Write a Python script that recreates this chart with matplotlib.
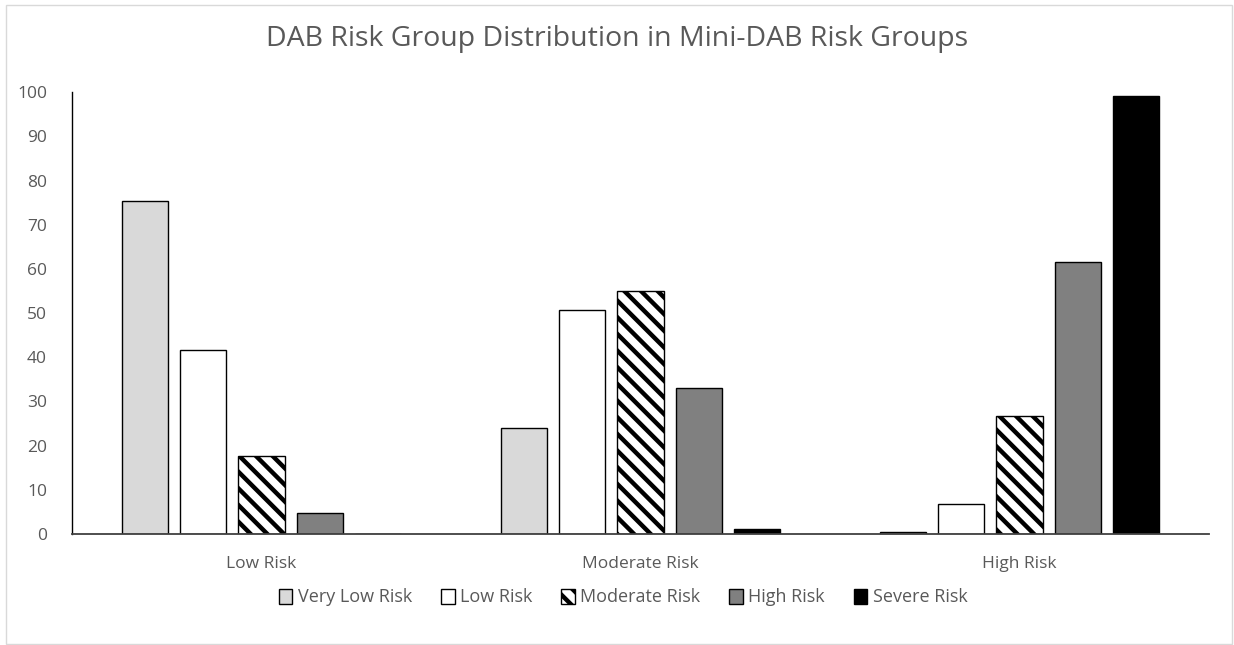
import numpy as np
import matplotlib
matplotlib.use("Agg")
import matplotlib.pyplot as plt
from matplotlib.patches import Rectangle

plt.rcParams['font.family'] = ['Open Sans', 'DejaVu Sans']
plt.rcParams['hatch.linewidth'] = 3.2

# data
groups = ['Low Risk', 'Moderate Risk', 'High Risk']
series = ['Very Low Risk', 'Low Risk', 'Moderate Risk', 'High Risk', 'Severe Risk']
very_low = [75.4, 24.0, 0.5]
low = [41.6, 50.7, 6.9]
moderate = [17.6, 55.0, 26.7]
high = [4.7, 33.1, 61.5]
severe = [0.0, 1.2, 99.1]

values = [very_low, low, moderate, high, severe]
fills = ['#d9d9d9', 'white', 'white', '#808080', 'black']
hatches = [None, None, '\\\\', None, None]

text_col = '#595959'

fig = plt.figure(figsize=(12.34, 6.45), dpi=100)
ax = fig.add_axes([0.0583, 0.1721, 0.9214, 0.6849])

x = np.arange(len(groups))
step = 0.154
width = 0.122
for i, (vals, fc, h, name) in enumerate(zip(values, fills, hatches, series)):
    ax.bar(x + (i - 2) * step, vals, width, color=fc, edgecolor='black',
           linewidth=1.0, hatch=h, label=name)

ax.set_xlim(-0.5, 2.5)
ax.set_ylim(0, 100)
ax.set_yticks(np.arange(0, 101, 10))
ax.set_xticks(x)
ax.set_xticklabels(groups)
ax.tick_params(axis='both', length=0, labelsize=12.5, colors=text_col)
ax.tick_params(axis='x', pad=16)
ax.tick_params(axis='y', pad=18)
for s in ['top', 'right']:
    ax.spines[s].set_visible(False)
ax.spines['left'].set_color('black')
ax.spines['bottom'].set_color('#404040')
ax.spines['left'].set_linewidth(1.0)
ax.spines['bottom'].set_linewidth(1.3)

fig.text(0.5, 0.939, 'DAB Risk Group Distribution in Mini-DAB Risk Groups',
         ha='center', va='center', fontsize=20.5, color=text_col)

leg = ax.legend(loc='center', bbox_to_anchor=(0.5, 0.0), bbox_transform=fig.transFigure,
                ncol=5, frameon=False, fontsize=13, handlelength=0.75, handleheight=0.9,
                handletextpad=0.3, columnspacing=1.6)
for t in leg.get_texts():
    t.set_color(text_col)
leg.set_bbox_to_anchor((0.505, 0.074), transform=fig.transFigure)

# outer chart border
fig.patches.append(Rectangle((0.005, 0.002), 0.993, 0.99, transform=fig.transFigure,
                             fill=False, edgecolor='#d9d9d9', linewidth=1.0))

fig.savefig('out.png', dpi=100)
